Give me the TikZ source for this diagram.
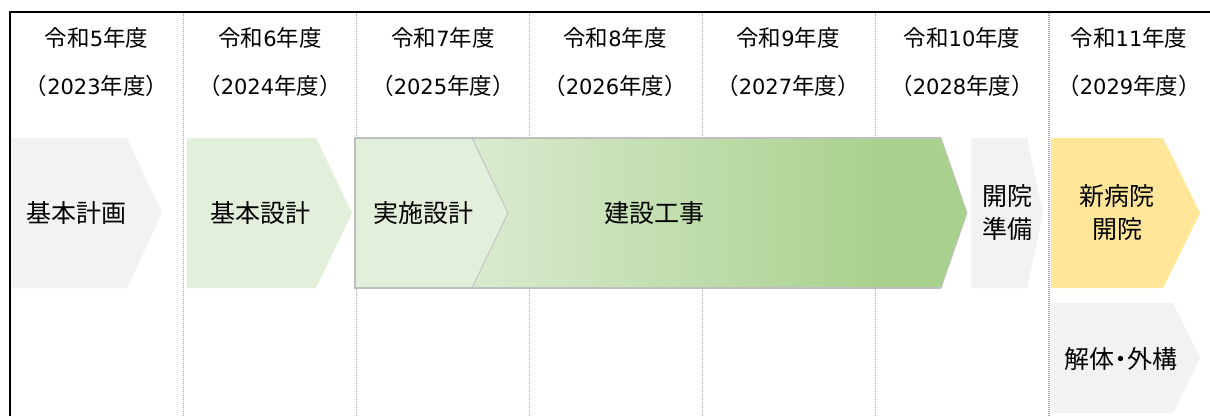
\documentclass[tikz,border=0pt]{standalone}
\usepackage{fontspec}
\setmainfont{Noto Sans CJK JP}
\newfontfamily\jp{Noto Sans CJK JP}
\newfontfamily\dig{DejaVu Sans}
\definecolor{grayfill}{HTML}{F2F2F2}
\definecolor{lgreen}{HTML}{E2EFDA}
\definecolor{dgreen}{HTML}{A9D18E}
\definecolor{yel}{HTML}{FFE699}
\definecolor{bord}{HTML}{BFBFBF}
\definecolor{divc}{HTML}{A6A6A6}
\tikzset{
  hdr/.style={font=\jp\fontsize{22.5}{24}\selectfont, text=black, inner sep=0pt, anchor=center},
  lbl/.style={font=\jp\fontsize{25}{33}\selectfont, text=black, inner sep=0pt, align=center, anchor=center},
  divider/.style={draw=divc, line width=1pt, dash pattern=on 1pt off 1pt},
  frame/.style={draw=black, line width=2pt}
}
\begin{document}
\begin{tikzpicture}[x=1pt,y=-1pt]
\useasboundingbox (0,0) rectangle (1210,416);
\fill[white] (0,0) rectangle (1210,416);
% dividers
\foreach \x in {183,356,529,702,875} {
  \draw[divider] (\x,13) -- (\x,416);
}
\draw[divider, line width=2pt] (1049,13) -- (1049,416);
% frame
\draw[frame] (10,416) -- (10,12) -- (1210,12);
% headers
\foreach \x/\a/\b [count=\i] in {96.5/5/2023, 270/6/2024, 443/7/2025, 615/8/2026, 788/9/2027, 962/10/2028, 1129/11/2029} {
  \node[hdr] (h\i a) at (\x,38) {令和{\dig\fontsize{21}{24}\selectfont\a}年度};
  \node[hdr] (h\i b) at (\x,86) {（{\dig\fontsize{21}{24}\selectfont\b}年度）};
}
% chevrons
\fill[grayfill] (11,138) -- (127,138) -- (162,213) -- (127,288) -- (11,288) -- cycle;
\fill[lgreen] (187,138) -- (316,138) -- (352,213) -- (316,288) -- (187,288) -- cycle;
\shade[left color=lgreen, right color=dgreen, shading angle=90]
  (355,138) -- (941,138) -- (967,213) -- (941,288) -- (355,288) -- cycle;
\shade[left color=lgreen!85!dgreen, right color=dgreen, draw=none]
  (472,138) -- (880,138) -- (880,288) -- (472,288) -- cycle;
\fill[dgreen] (880,138) -- (941,138) -- (967,213) -- (941,288) -- (880,288) -- cycle;
\fill[lgreen] (355,138) -- (472,138) -- (508,213) -- (472,288) -- (355,288) -- cycle;
\draw[bord, line width=0.8pt] (472,138) -- (508,213) -- (472,288);
\draw[bord, line width=1.5pt] (941,138) -- (355,138) -- (355,288) -- (941,288);
\draw[bord, line width=0.8pt] (941,138) -- (967,213) -- (941,288);
\fill[grayfill] (971,138) -- (1027,138) -- (1043,213) -- (1027,288) -- (971,288) -- cycle;
\fill[yel] (1051,138) -- (1163,138) -- (1200,213) -- (1163,288) -- (1051,288) -- cycle;
\fill[grayfill] (1051,303) -- (1173,303) -- (1200,358) -- (1173,413) -- (1051,413) -- cycle;
% labels
\node[lbl] (keikaku) at (77,213) {基本計画};
\node[lbl] (kihon) at (260,213) {基本設計};
\node[lbl] (jisshi) at (423,213) {実施設計};
\node[lbl] (kensetsu) at (654,213) {建設工事};
\node[lbl] (junbi) at (1007,213) {開院\\準備};
\node[lbl] (kaiin) at (1117,213) {新病院\\開院};
\node[lbl] (kaitai) at (1121,359) {解体\hspace{-0.25em}・\hspace{-0.25em}外構};
\end{tikzpicture}
\end{document}
